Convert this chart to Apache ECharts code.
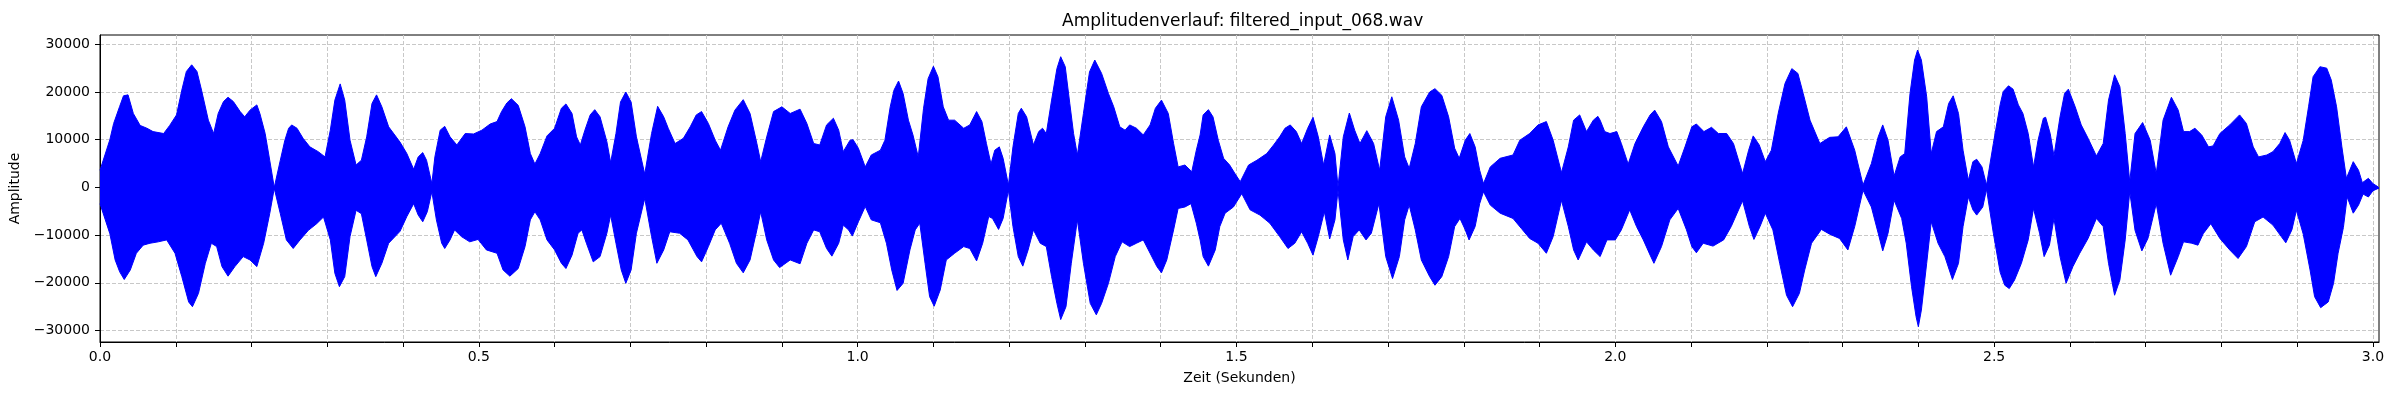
<!DOCTYPE html>
<html><head><meta charset="utf-8">
<script src="https://cdn.jsdelivr.net/npm/echarts@6/dist/echarts.min.js"></script>
<style>html,body{margin:0;padding:0;background:#fff}#c{width:2400px;height:400px}</style>
</head><body><div id="c"></div>
<script>
// Envelope of the waveform (time in seconds, amplitude)
const upperTime = [
0.000,0.013,0.018,0.026,0.031,0.037,0.044,0.053,0.062,0.070,0.084,0.092,0.101,0.108,0.114,0.121,0.128,0.134,0.143,0.150,
0.156,0.163,0.169,0.176,0.185,0.191,0.198,0.207,0.211,0.218,0.224,0.230,0.238,0.244,0.249,0.253,0.260,0.268,0.277,0.288,
0.297,0.304,0.310,0.317,0.323,0.330,0.338,0.345,0.352,0.359,0.365,0.372,0.381,0.396,
0.405,0.414,0.420,0.426,0.431,0.438,0.442,0.449,0.455,0.462,0.471,0.482,0.493,0.504,0.515,0.524,0.530,0.537,0.543,0.552,
0.561,0.568,0.574,0.581,0.590,0.600,0.609,0.615,0.623,0.629,0.634,0.640,0.647,0.653,0.660,0.669,0.674,0.681,0.687,0.694,
0.701,0.708,0.719,0.728,0.736,0.744,0.750,0.759,0.770,0.779,0.787,0.794,0.803,0.812,0.819,0.829,0.838,0.849,0.858,0.867,
0.872,0.880,0.889,0.900,0.911,0.924,
0.933,0.942,0.950,0.959,0.968,0.975,0.981,0.990,0.994,1.001,1.010,1.018,1.030,1.036,1.043,1.048,1.054,1.060,1.067,1.073,
1.080,1.087,1.093,1.100,1.106,1.113,1.120,1.128,1.140,1.148,1.157,1.164,1.170,1.176,1.181,1.187,1.192,1.199,1.205,1.212,
1.216,1.223,1.232,1.239,1.244,1.249,1.256,1.263,1.268,1.274,1.280,1.285,1.290,1.298,1.306,1.313,1.322,1.331,1.338,1.346,
1.353,1.359,1.368,1.377,1.386,1.393,1.401,1.410,1.417,1.423,1.432,1.441,1.447,
1.452,1.456,1.463,1.469,1.476,1.483,1.491,1.498,1.505,1.516,1.527,1.540,1.549,1.557,1.564,1.571,1.579,1.586,1.594,1.601,
1.608,1.615,1.623,1.630,1.634,1.641,1.649,1.656,1.663,1.672,1.681,1.689,1.697,1.705,1.714,1.722,1.728,1.736,1.744,1.755,
1.762,1.771,1.780,1.788,1.794,1.802,1.808,1.815,1.821,1.826,1.835,1.848,1.865,1.874,1.887,1.898,1.909,1.918,1.929,1.938,
1.945,1.953,1.962,1.971,1.977,
1.980,1.986,1.993,2.002,2.008,2.017,2.026,2.037,2.046,2.052,2.061,2.070,2.083,2.092,2.101,2.107,2.117,2.127,2.136,2.147,
2.156,2.168,2.176,2.182,2.190,2.198,2.206,2.215,2.224,2.233,2.241,2.248,2.257,2.270,2.283,2.294,2.305,2.316,2.327,2.338,
2.347,2.353,2.360,2.368,2.376,2.382,2.389,2.395,2.399,2.404,2.411,2.417,2.424,2.433,2.440,2.446,2.453,2.459,2.466,2.472,
2.477,2.484,2.490,2.499,
2.508,2.512,2.519,2.525,2.532,2.538,2.545,2.552,2.558,2.565,2.568,2.574,2.579,2.587,2.593,2.598,2.607,2.615,2.624,2.635,
2.644,2.651,2.659,2.666,2.673,2.679,2.686,2.696,2.706,2.714,2.723,2.734,2.743,2.750,2.758,2.765,2.774,2.783,2.789,2.798,
2.811,2.824,2.833,2.842,2.849,2.860,2.868,2.877,2.884,2.890,2.899,2.908,2.915,2.921,2.930,2.939,2.945,2.952,2.959,2.965,
2.974,2.981,2.986,2.994,3.000,3.007
];
const upperAmp = [
3600,10000,13400,17000,19200,19400,15500,13000,12400,11700,11300,13000,15200,20400,24300,25700,24300,20400,14100,11300,
15500,18000,18900,18000,15900,14800,16200,17300,15500,11300,5700,0,5700,9900,12400,13100,12400,10300,8500,7500,
6400,12000,18300,21700,18300,9900,4700,5700,10600,17600,19400,16900,12700,9500,
7100,3800,6400,7300,5700,800,6400,12000,12800,10600,8900,11300,11200,12000,13300,13800,15900,17700,18600,17200,
12700,7100,4900,7100,10800,12400,16600,17500,15500,10600,8900,12000,15200,16300,14800,9600,5200,11300,17900,20000,
17900,10600,2800,11300,17000,14800,12400,9200,10300,12700,15200,15900,13400,9900,7800,12700,16200,18400,15500,9200,
5400,10600,15900,16900,15500,16400,
13400,9200,8900,13100,14500,12000,7500,9900,10000,8200,4300,6800,7800,9900,16900,20400,22300,19700,14100,11000,
6400,16600,22800,25400,23200,16900,14100,14100,12400,13100,15900,13800,9200,4900,7800,8500,6100,500,8500,15500,
16600,14800,8900,11700,12400,11300,18300,24900,27400,25300,17600,11300,6800,15500,24200,26700,23900,19700,16900,12700,
12000,13100,12400,11000,13100,16600,18300,15500,9200,4300,4700,3300,7800,
11000,15200,16300,14800,9900,6100,4700,2900,1200,4700,5700,7100,8900,10600,12400,13100,11700,9200,12400,14700,
10600,4700,11000,7100,100,10600,15600,12000,9200,11900,9200,3600,14800,19000,14100,6400,4000,9200,16900,20000,
20700,19300,14800,8200,6100,9900,11300,8500,3600,800,4300,6100,6800,9900,11300,13100,13800,9900,3100,8500,
14100,15200,11700,14100,14900,
14100,11700,11300,11700,9200,4900,9200,12700,15200,16200,13800,8500,4500,8500,12700,13300,11700,12600,11300,11300,
9200,2900,7800,10800,8900,5400,7800,15500,21800,24900,23900,19700,14100,9200,10500,10600,12700,7800,500,5000,
10600,13100,9900,2400,6400,7100,19700,26700,28800,26700,19000,7100,11700,12700,17600,19200,15500,7800,1500,5400,
5900,4300,500,9200,
17400,20100,21300,20600,17300,15500,11300,4300,9900,14500,14700,11300,6600,14800,19700,20600,16900,13100,10300,6600,
9200,18300,23600,21100,11300,1200,11300,13600,9900,2900,14100,18900,16200,11700,11700,12400,11000,8500,8700,11300,
13100,15200,13400,8500,6400,6800,7500,9200,11500,9900,5000,9900,16900,23200,25300,25000,22500,16900,8500,1900,
5400,3600,1000,1900,800,100
];
const lowerTime = [
0.000,0.013,0.020,0.026,0.032,0.040,0.048,0.057,0.066,0.077,0.088,0.099,0.108,0.117,0.122,0.130,0.139,0.147,0.154,0.161,
0.169,0.178,0.189,0.198,0.207,0.216,0.224,0.230,0.238,0.246,0.255,0.264,0.275,0.286,0.295,0.304,0.310,0.316,0.323,0.330,
0.338,0.345,0.352,0.359,0.364,0.372,0.381,0.396,
0.405,0.414,0.420,0.426,0.432,0.438,0.444,0.451,0.455,0.462,0.468,0.477,0.488,0.499,0.510,0.524,0.532,0.541,0.552,0.561,
0.568,0.574,0.581,0.590,0.600,0.609,0.615,0.623,0.631,0.636,0.642,0.651,0.660,0.669,0.674,0.681,0.688,0.694,0.701,0.708,
0.719,0.728,0.735,0.744,0.752,0.765,0.776,0.788,0.794,0.803,0.812,0.820,0.831,0.840,0.849,0.858,0.867,0.872,0.880,0.889,
0.897,0.911,0.924,
0.933,0.942,0.950,0.959,0.966,0.975,0.981,0.988,0.993,1.001,1.010,1.018,1.030,1.038,1.045,1.052,1.060,1.069,1.076,1.082,
1.089,1.095,1.101,1.109,1.117,1.128,1.140,1.148,1.157,1.165,1.173,1.178,1.186,1.192,1.199,1.205,1.212,1.218,1.225,1.232,
1.241,1.249,1.256,1.263,1.268,1.275,1.282,1.290,1.298,1.307,1.315,1.322,1.331,1.340,1.349,1.359,1.368,1.377,1.386,1.395,
1.401,1.408,1.417,1.423,1.432,1.440,1.447,
1.452,1.456,1.463,1.472,1.478,1.485,1.496,1.507,1.518,1.531,1.544,1.557,1.568,1.577,1.586,1.594,1.601,1.608,1.616,1.623,
1.630,1.634,1.641,1.647,1.654,1.662,1.671,1.678,1.688,1.697,1.706,1.715,1.722,1.728,1.736,1.744,1.755,1.762,1.771,1.780,
1.788,1.795,1.802,1.807,1.815,1.821,1.826,1.835,1.848,1.865,1.876,1.887,1.898,1.909,1.918,1.929,1.938,1.945,1.951,1.962,
1.971,
1.980,1.989,2.000,2.008,2.019,2.028,2.037,2.046,2.051,2.061,2.072,2.083,2.094,2.101,2.107,2.116,2.129,2.143,2.153,2.168,
2.177,2.183,2.191,2.198,2.208,2.217,2.226,2.234,2.243,2.250,2.259,2.272,2.283,2.296,2.307,2.316,2.327,2.338,2.347,2.353,
2.360,2.368,2.378,2.384,2.391,2.397,2.400,2.404,2.411,2.417,2.426,2.435,2.445,2.453,2.459,2.466,2.472,2.477,2.485,2.490,
2.499,
2.508,2.514,2.520,2.527,2.536,2.545,2.552,2.560,2.566,2.573,2.579,2.587,2.595,2.604,2.613,2.624,2.635,2.644,2.651,2.659,
2.666,2.673,2.679,2.686,2.695,2.703,2.714,2.723,2.733,2.743,2.750,2.761,2.769,2.776,2.786,2.798,2.811,2.822,2.833,2.844,
2.855,2.868,2.879,2.885,2.893,2.899,2.908,2.917,2.923,2.931,2.941,2.948,2.954,2.961,2.966,2.974,2.981,2.987,2.994,3.000,
3.007
];
const lowerAmp = [
-3400,-9700,-15200,-17700,-19300,-17300,-13800,-12100,-11700,-11400,-11000,-13800,-18700,-24000,-25000,-22200,-15900,-11700,-12400,-16600,
-18600,-16600,-14500,-15200,-16600,-11700,-5500,-200,-5500,-11000,-12800,-11000,-9000,-7600,-6200,-11000,-18000,-20800,-18700,-10300,
-4800,-5500,-11000,-16600,-18700,-15900,-11700,-9200,
-6100,-3400,-5800,-7200,-5100,-900,-6800,-11700,-12800,-11000,-8900,-10300,-11400,-10900,-13100,-13800,-17300,-18600,-17000,-12400,
-6800,-5100,-6800,-11000,-13100,-15900,-17000,-14200,-9600,-8900,-11700,-15600,-14500,-9600,-5800,-11700,-17300,-20100,-17300,-9600,
-2300,-10300,-15900,-13100,-9300,-9600,-11000,-14500,-15600,-12400,-8900,-7500,-11700,-15900,-17900,-15200,-8900,-5100,-11000,-15200,
-16800,-15200,-16000,
-11700,-8900,-9300,-12800,-14400,-11700,-7900,-8900,-10200,-7200,-4000,-6800,-7400,-11700,-17300,-21600,-20100,-13100,-8900,-7500,
-15900,-22900,-24900,-21500,-15200,-13800,-12400,-12800,-15400,-11700,-6100,-6500,-8800,-6500,-600,-8200,-14500,-16500,-13100,-8900,
-11700,-12400,-18700,-24300,-27700,-25000,-15900,-6800,-15900,-24300,-26700,-24300,-20100,-14500,-11400,-12400,-11700,-11000,-13800,-16600,
-17900,-15200,-8900,-4400,-4100,-3400,-7500,
-11000,-14500,-16500,-13100,-8200,-5400,-4100,-1300,-4700,-5800,-7500,-10300,-12800,-11700,-9300,-11700,-14200,-10300,-5100,-10800,
-6800,-600,-11000,-15200,-10300,-8900,-11000,-9600,-3400,-14500,-19100,-14500,-6800,-3700,-8900,-15200,-18700,-20500,-18700,-14500,
-8200,-6500,-8900,-11000,-8200,-3400,-900,-3700,-5400,-6500,-8600,-10700,-11700,-13800,-10300,-2700,-8200,-13100,-15200,-11400,
-13100,
-14500,-11000,-11000,-8900,-4700,-8200,-11000,-14200,-15900,-12400,-6800,-4400,-8900,-12400,-13700,-11700,-12300,-11000,-8200,-2800,
-8200,-10900,-8200,-5400,-8900,-15900,-22600,-25000,-22200,-17300,-11700,-8800,-9800,-10700,-13100,-8200,-600,-4100,-9600,-13300,
-9600,-2700,-6500,-11700,-20800,-27100,-29200,-25700,-15900,-7200,-11700,-14500,-19300,-15900,-8200,-2000,-4700,-5800,-4100,-400,
-9600,
-17800,-20500,-21200,-19400,-15900,-11000,-4400,-9600,-14500,-12100,-6500,-14500,-20100,-16600,-13800,-10700,-6500,-8200,-15900,-22600,
-19400,-11000,-900,-9000,-13300,-10700,-3400,-11700,-18400,-14500,-11400,-11700,-12100,-9700,-7600,-10700,-13100,-14900,-12400,-7200,
-6200,-7900,-10300,-11600,-8900,-4800,-9800,-17300,-22900,-25200,-24000,-20100,-13800,-8400,-2000,-5400,-3700,-1400,-2000,-700,
-200
];
const xTickValues = [0.0,0.1,0.2,0.3,0.4,0.5,0.6,0.7,0.8,0.9,1.0,1.1,1.2,1.3,1.4,1.5,1.6,1.7,1.8,1.9,2.0,2.1,2.2,2.3,2.4,2.5,2.6,2.7,2.8,2.9,3.0];
const xLabelValues = [0.0,0.5,1.0,1.5,2.0,2.5,3.0];
const yTickValues = [-30000,-20000,-10000,0,10000,20000,30000];
const titleText = 'Amplitudenverlauf: filtered_input_068.wav';
const xName = 'Zeit (Sekunden)';
const yName = 'Amplitude';

const FONT = 'DejaVu Sans';
const chart = echarts.init(document.getElementById('c'), null, {renderer: 'canvas'});
const gridStyle = {show: true, lineStyle: {color: '#c8c8c8', width: 1, type: [4, 2]}};
const upperData = upperTime.map((t, i) => [t, upperAmp[i]]);
const lowerData = lowerTime.map((t, i) => [t, lowerAmp[i]]);
const waveSeries = (name, data, extra) => Object.assign({
  name, type: 'line', data, symbol: 'none', smooth: false, clip: true,
  lineStyle: {color: '#0000ff', width: 1}, areaStyle: {color: '#0000ff', opacity: 1, origin: 'auto'},
  silent: true
}, extra || {});
chart.setOption({
  animation: false,
  backgroundColor: '#ffffff',
  textStyle: {fontFamily: FONT},
  title: {text: titleText, left: 1062, top: 13, padding: 0,
    textStyle: {fontFamily: FONT, fontSize: 17, fontWeight: 'normal', color: '#000'}},
  grid: {left: 100, right: 21, top: 35, bottom: 58, show: true, borderColor: '#000', borderWidth: 1, containLabel: false},
  xAxis: {
    type: 'value', min: 0, max: 3.008,
    name: xName, nameLocation: 'middle', nameGap: 29,
    nameTextStyle: {fontFamily: FONT, fontSize: 14, color: '#000'},
    axisLine: {show: true, onZero: false, lineStyle: {color: '#000', width: 1}},
    axisTick: {show: true, inside: false, length: 5, customValues: xTickValues, lineStyle: {color: '#000', width: 1}},
    axisLabel: {show: true, margin: 8, customValues: xLabelValues, fontFamily: FONT, fontSize: 14, color: '#000',
      formatter: v => Number(v).toFixed(1)},
    splitLine: gridStyle
  },
  yAxis: {
    type: 'value', min: -32400, max: 31950,
    name: yName, nameLocation: 'middle', nameGap: 73, nameRotate: 90,
    nameTextStyle: {fontFamily: FONT, fontSize: 14, color: '#000'},
    axisLine: {show: true, onZero: false, lineStyle: {color: '#000', width: 1}},
    axisTick: {show: true, inside: false, length: 5, customValues: yTickValues, lineStyle: {color: '#000', width: 1}},
    axisLabel: {show: true, margin: 10, customValues: yTickValues, fontFamily: FONT, fontSize: 14, color: '#000',
      formatter: v => (v < 0 ? '\u2212' + Math.abs(v) : String(v))},
    splitLine: gridStyle
  },
  series: [
    waveSeries('upper', upperData, {
      markLine: {silent: true, symbol: 'none', label: {show: false}, animation: false,
        lineStyle: {color: '#0000ff', width: 2, type: 'solid'}, data: [{yAxis: 0}]}
    }),
    waveSeries('lower', lowerData)
  ]
});
</script>
</body></html>
